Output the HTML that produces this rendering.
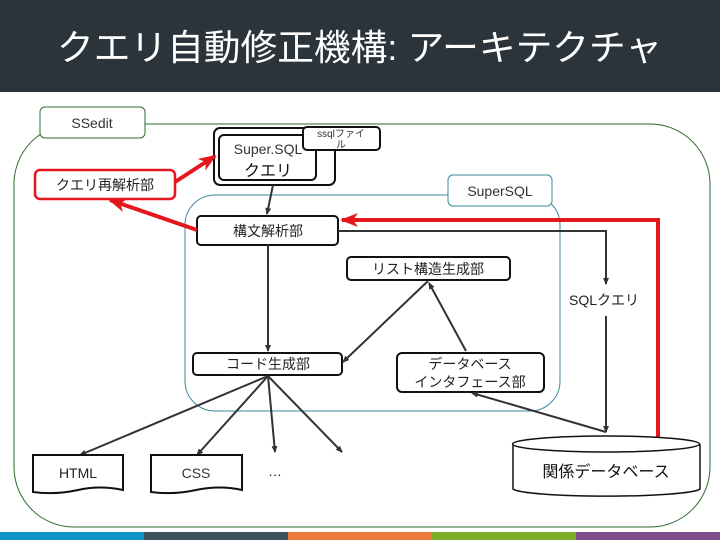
<!DOCTYPE html>
<html><head><meta charset="utf-8"><style>
html,body{margin:0;padding:0;width:720px;height:540px;overflow:hidden;background:#fff}
text{font-family:"Liberation Sans","Noto Sans CJK JP",sans-serif}
</style></head><body>
<svg width="720" height="540" viewBox="0 0 720 540" xmlns="http://www.w3.org/2000/svg">
<defs>
<marker id="a" markerWidth="8" markerHeight="8" refX="6" refY="4" orient="auto" markerUnits="userSpaceOnUse"><path d="M0,1 L7,4 L0,7 Z" fill="#333"/></marker>
<marker id="r" markerWidth="20" markerHeight="16" refX="16" refY="8" orient="auto" markerUnits="userSpaceOnUse"><path d="M0,1 L18,8 L0,15 L5,8 Z" fill="#e3171c"/></marker>
</defs>
<rect x="0" y="0" width="720" height="92" fill="#2b343a"/>
<text x="57" y="60" fill="#fff" font-size="36" textLength="605" lengthAdjust="spacingAndGlyphs">クエリ自動修正機構: アーキテクチャ</text>

<!-- outer container -->
<rect x="14" y="124" width="696" height="403" rx="60" fill="none" stroke="#2d6a2d" stroke-width="1"/>
<rect x="40" y="107" width="105" height="31" rx="5" fill="#fff" stroke="#2d6a2d"/>
<text x="92" y="128" font-size="14" text-anchor="middle" fill="#333">SSedit</text>

<!-- SuperSQL container -->
<rect x="185" y="195" width="375" height="216" rx="30" fill="none" stroke="#3a8a9a"/>
<rect x="448" y="175" width="104" height="31" rx="5" fill="#fff" stroke="#3a8a9a"/>
<text x="500" y="196" font-size="14" text-anchor="middle" fill="#333">SuperSQL</text>

<!-- SuperSQL query -->
<rect x="214" y="128" width="121" height="57" rx="6" fill="#fff" stroke="#111" stroke-width="2"/>
<rect x="219" y="135" width="97" height="45" rx="5" fill="#fff" stroke="#111" stroke-width="2"/>
<text x="268" y="154" font-size="14" text-anchor="middle" fill="#333">Super.SQL</text>
<text x="268" y="176" font-size="16" text-anchor="middle" fill="#111">クエリ</text>
<rect x="303" y="127" width="77" height="23" rx="4" fill="#fff" stroke="#111" stroke-width="2"/>
<text x="341" y="137" font-size="10" text-anchor="middle" fill="#333">ssqlファイ</text>
<text x="341" y="148" font-size="10" text-anchor="middle" fill="#333">ル</text>

<!-- クエリ再解析部 -->
<rect x="35" y="170" width="140" height="29" rx="5" fill="#fff" stroke="#e3171c" stroke-width="2.5"/>
<text x="105" y="190" font-size="14" text-anchor="middle" fill="#222">クエリ再解析部</text>

<!-- boxes -->
<rect x="197" y="216" width="141" height="29" rx="4" fill="#fff" stroke="#111" stroke-width="2"/>
<text x="268" y="236" font-size="14" text-anchor="middle" fill="#222">構文解析部</text>
<rect x="347" y="257" width="163" height="23" rx="4" fill="#fff" stroke="#111" stroke-width="2"/>
<text x="428" y="274" font-size="14" text-anchor="middle" fill="#222">リスト構造生成部</text>
<rect x="193" y="353" width="149" height="22" rx="4" fill="#fff" stroke="#111" stroke-width="2"/>
<text x="268" y="369" font-size="14" text-anchor="middle" fill="#222">コード生成部</text>
<rect x="397" y="353" width="147" height="39" rx="5" fill="#fff" stroke="#111" stroke-width="2"/>
<text x="470" y="369" font-size="14" text-anchor="middle" fill="#222">データベース</text>
<text x="470" y="387" font-size="14" text-anchor="middle" fill="#222">インタフェース部</text>

<!-- connectors -->
<g stroke="#333" stroke-width="2" fill="none">
<line x1="273" y1="185" x2="267" y2="214" marker-end="url(#a)"/>
<line x1="268" y1="245" x2="268" y2="351" marker-end="url(#a)"/>
<line x1="428" y1="281" x2="343" y2="362" marker-end="url(#a)"/>
<line x1="466" y1="351" x2="429" y2="283" marker-end="url(#a)"/>
<polyline points="338,231 606,231 606,284" marker-end="url(#a)"/>
<line x1="606" y1="316" x2="606" y2="432" marker-end="url(#a)"/>
<line x1="606" y1="432" x2="472" y2="393" marker-end="url(#a)"/>
<line x1="268" y1="376" x2="80" y2="455" marker-end="url(#a)"/>
<line x1="268" y1="376" x2="197" y2="455" marker-end="url(#a)"/>
<line x1="268" y1="376" x2="275" y2="452" marker-end="url(#a)"/>
<line x1="268" y1="376" x2="342" y2="452" marker-end="url(#a)"/>
</g>
<text x="604" y="305" font-size="14" text-anchor="middle" fill="#222">SQLクエリ</text>

<!-- red -->
<g stroke="#e3171c" stroke-width="4" fill="none">
<polyline points="658,440 658,220 342,220" marker-end="url(#r)"/>
<line x1="197" y1="230" x2="110" y2="200" marker-end="url(#r)"/>
<line x1="175" y1="182" x2="215" y2="156" marker-end="url(#r)"/>
</g>

<!-- documents -->
<path d="M33,455 H123 V490 Q100,485 78,490 Q55,495 33,492 Z" fill="#fff" stroke="#111" stroke-width="2"/>
<text x="78" y="478" font-size="14" text-anchor="middle" fill="#222">HTML</text>
<path d="M151,455 H242 V490 Q220,485 196,490 Q173,495 151,492 Z" fill="#fff" stroke="#111" stroke-width="2"/>
<text x="196" y="478" font-size="14" text-anchor="middle" fill="#333">CSS</text>
<text x="275" y="476" font-size="14" text-anchor="middle" fill="#222">…</text>

<!-- cylinder -->
<path d="M513,444 V489 A94,8 0 0 0 700,489 V444" fill="#fff" stroke="#111" stroke-width="1.5"/>
<ellipse cx="606" cy="444" rx="93.5" ry="8" fill="#fff" stroke="#111" stroke-width="1.5"/>
<text x="606" y="477" font-size="16" text-anchor="middle" fill="#111">関係データベース</text>

<!-- bottom bars -->
<rect x="0" y="532" width="144" height="8" fill="#0f93c9"/>
<rect x="144" y="532" width="144" height="8" fill="#3d4f58"/>
<rect x="288" y="532" width="144" height="8" fill="#ee7a3c"/>
<rect x="432" y="532" width="144" height="8" fill="#7aac26"/>
<rect x="576" y="532" width="144" height="8" fill="#7d4d8c"/>
</svg>
</body></html>
